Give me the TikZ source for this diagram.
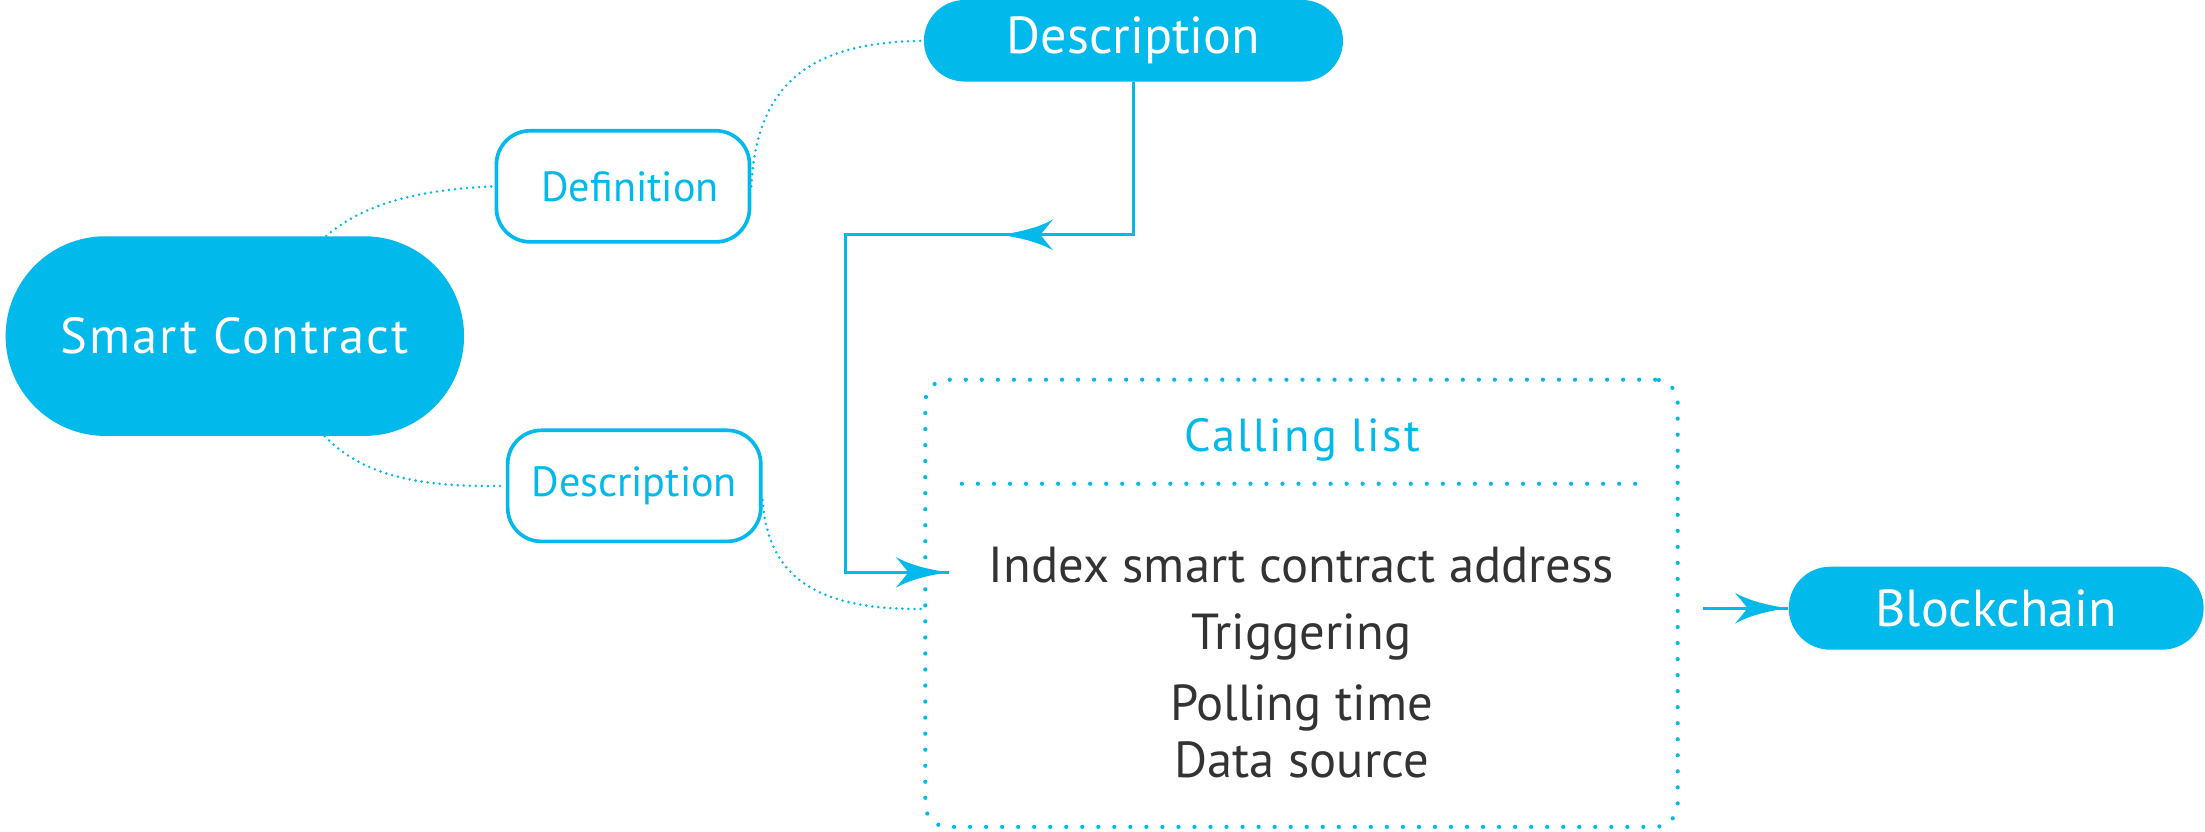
\documentclass[tikz,border=0pt]{standalone}
\usepackage{fontspec}
\setmainfont{PT Sans}
\usetikzlibrary{decorations.markings,calc}
\definecolor{cy}{RGB}{2,185,236}
\definecolor{txt}{RGB}{51,51,51}
\begin{document}
\begin{tikzpicture}[x=1pt,y=-1pt,
  fillbox/.style={fill=cy,text=white,inner sep=0pt},
  outbox/.style={draw=cy,line width=2.6pt,text=cy,inner sep=0pt,rounded corners=24pt,
    minimum width=180pt,minimum height=79pt,font=\fontsize{30}{34}\selectfont},
  finedots/.style={draw=cy,line width=2pt,line cap=round,dash pattern=on 0pt off 4.3pt},
  bigdots/.style={draw=cy,line width=3pt,line cap=round,dash pattern=on 0pt off 11.4pt},
  solidc/.style={draw=cy,line width=2.3pt},
  listtxt/.style={text=txt,inner sep=0pt,anchor=base,font=\fontsize{36}{40}\selectfont},
  swoosh/.pic={\fill[cy] (0,0) .. controls (-12,1.5) and (-28,5) .. (-38,11)
      .. controls (-34,6) .. (-29,0) .. controls (-34,-6) .. (-38,-11)
      .. controls (-28,-5) and (-12,-1.5) .. (0,0) -- cycle;}
  ]
\useasboundingbox (0,0) rectangle (1568,591);

% nodes
\node[fillbox,minimum width=326pt,minimum height=142pt,rounded corners=71pt,
  font=\fontsize{36}{40}\selectfont\addfontfeatures{LetterSpace=4}] (sc) at (167,239) {Smart Contract};
\node[outbox] (def) at (443,132.5) {\hspace*{10pt}Definition};
\node[outbox] (desc1) at (451,345.5) {Description};
\node[fillbox,minimum width=298pt,minimum height=58pt,rounded corners=29pt,
  font=\fontsize{37}{40}\selectfont] (desc2) at (806,29) {Description};
\node[bigdots,rounded corners=16pt,minimum width=535pt,minimum height=318pt] (call) at (925.5,429) {};
\node[text=cy,inner sep=0pt,font=\fontsize{33}{36}\selectfont\addfontfeatures{LetterSpace=5}] (title) at (926,313) {Calling list};
\draw[bigdots] (684,344) -- (1168,344);
\node[listtxt] (l1) at (925.5,414) {Index smart contract address};
\node[listtxt] (l2) at (925.5,462) {Triggering};
\node[listtxt] (l3) at (925.5,512) {Polling time};
\node[listtxt] (l4) at (925.5,553) {Data source};
\node[fillbox,minimum width=295pt,minimum height=59pt,rounded corners=29.5pt,
  font=\fontsize{37}{40}\selectfont] (bc) at (1419.5,432.5) {Blockchain};

% dotted connectors
\draw[finedots] ($(sc.north)+(65,0)$) .. controls (255,148) and (290,135) .. (def.west);
\draw[finedots] (def.east) .. controls (538,60) and (575,30) .. (desc2.west);
\draw[finedots] ($(sc.south)+(64,0)$) .. controls (255,335) and (290,347) .. (desc1.west);
\draw[finedots] ($(desc1.east)+(0,10)$) .. controls (546,410) and (580,434) .. ($(call.west)+(0,4)$);

% solid connectors
\coordinate (c1) at (601,167);
\coordinate (tipidx) at (675,407);
\draw[solidc,postaction={decorate},decoration={markings,
   mark=at position 204pt with {\pic[rotate=180]{swoosh};},
   mark=at position 1 with {\pic{swoosh};}}]
  (desc2.south) |- (c1) |- (tipidx);
\coordinate (bcs) at (1211,432.5);
\draw[solidc,postaction={decorate},decoration={markings,
   mark=at position 1 with {\pic{swoosh};}}]
  (bcs) -- (bc.west);
\end{tikzpicture}
\end{document}
